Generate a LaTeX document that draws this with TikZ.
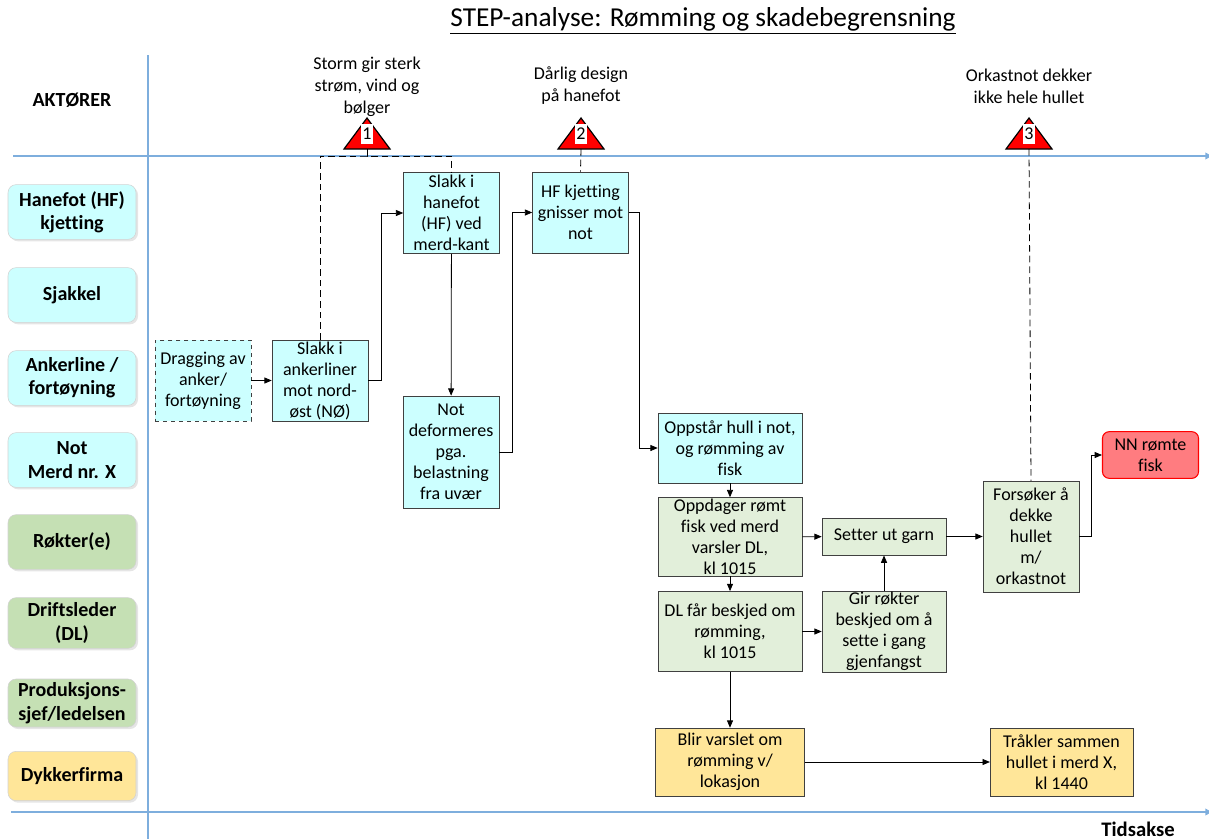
\documentclass[tikz,border=0pt]{standalone}
\usepackage{fontspec}
\setmainfont{Carlito}[Ligatures=NoCommon]
\usetikzlibrary{arrows.meta, positioning, shadows}
\definecolor{lanecyan}{HTML}{CCFFFF}
\definecolor{lanegreen}{HTML}{C5E0B4}
\definecolor{laneyellow}{HTML}{FFE699}
\definecolor{stepgreen}{HTML}{E2EFDA}
\definecolor{stepred}{HTML}{FF7C80}
\definecolor{axisblue}{HTML}{7EAEDD}

\begin{document}
\begin{tikzpicture}[x=0.75pt, y=-0.75pt,
      actor/.style={draw=gray!35, rounded corners=6pt, fill=lanecyan,
                    minimum width=96pt, minimum height=41pt, inner sep=1pt,
                    align=center, font=\fontsize{15}{17.5}\selectfont\bfseries,
                    drop shadow={shadow xshift=1.5pt, shadow yshift=-1.5pt, fill=gray!40}},
      box/.style={draw=black!75, fill=lanecyan, minimum width=72pt,
                  minimum height=61pt, inner sep=1pt, align=center,
                  font=\fontsize{13.5}{15.75}\selectfont},
      note/.style={align=center, font=\fontsize{13.5}{16.5}\selectfont},
      riskno/.style={fill=white, inner xsep=1pt, inner ysep=0pt, minimum height=15pt,
                     font=\fontsize{13.5}{15}\selectfont},
      risk/.style={draw=black, fill=red, line width=0.9pt, line join=miter},
      axis/.style={axisblue, line width=1pt, -{Triangle[length=5pt, width=5pt]}},
      arr/.style={-{Triangle[length=5.5pt, width=4.5pt]}, semithick},
      riskline/.style={semithick, dash pattern=on 5pt off 3pt},
    ]
    \useasboundingbox (0,0) rectangle (1209,839);

    % ── Frame: title, axes ──
    \node[font=\fontsize{20.5}{24}\selectfont] (title) at (703,21)
          {\underline{STEP-analyse: Rømming og skadebegrensning}};
    \draw[axisblue, line width=1pt] (148,55) -- (148,839);
    \draw[axis] (13,156) -- (1212,156);
    \draw[axis] (11,812) -- (1212,812);
    \node[font=\fontsize{15}{17}\selectfont\bfseries] (aktorer) at (72,100) {AKTØRER};
    \node[font=\fontsize{15.5}{17}\selectfont\bfseries] (tid) at (1138,829) {Tidsakse};

    % ── Actors (lanes) ──
    \node[actor] (hf)     at (72,212) {Hanefot (HF)\\kjetting};
    \node[actor] (sjakk)  at (72,295) {Sjakkel};
    \node[actor] (anker)  at (72,378) {Ankerline /\\fortøyning};
    \node[actor] (not)    at (72,460) {Not\\Merd nr. X};
    \node[actor, fill=lanegreen] (rokt) at (72,542) {Røkter(e)};
    \node[actor, fill=lanegreen, minimum height=38pt] (dl) at (72,623) {Driftsleder\\(DL)};
    \node[actor, fill=lanegreen, minimum height=36pt] (prod) at (72,703)
          {Produksjons-\\sjef/ledelsen};
    \node[actor, fill=laneyellow, minimum height=37pt] (dykk) at (72,776) {Dykkerfirma};

    % ── Risk triangles ──
    \draw[risk] (367,118) -- (390,149) -- (344,149) -- cycle;
    \draw[risk] (581,118) -- (604,149) -- (558,149) -- cycle;
    \draw[risk] (1029,118) -- (1052,149) -- (1006,149) -- cycle;
    \node[riskno] (n1) at (367,134) {1};
    \node[riskno] (n2) at (581,134) {2};
    \node[riskno] (n3) at (1029,134) {3};
    \coordinate (r1) at (367,149);
    \coordinate (r2) at (581,149);
    \coordinate (r3) at (1029,149);
    \coordinate (r1axis) at (367,156);
    \node[note] (storm)  at (367,87) {Storm gir sterk\\strøm, vind og\\bølger};
    \node[note] (design) at (581,86) {Dårlig design\\på hanefot};
    \node[note] (orkan)  at (1029,86) {Orkastnot dekker\\ikke hele hullet};

    % ── Process boxes: not / anker / hanefot ──
    \node[box, dashed] (drag) at (203,380.5) {Dragging av\\anker/\\fortøyning};
    \node[box] (slakkank) at (320,380.5) {Slakk i\\ankerliner\\mot nord-\\øst (NØ)};
    \node[box] (slakkhf)  at (451.5,213) {Slakk i\\hanefot\\(HF) ved\\merd-kant};
    \node[box, minimum height=84pt] (deform) at (451,452)
          {Not\\deformeres\\pga.\\belastning\\fra uvær};
    \node[box] (gnisser) at (580.5,212.5) {HF kjetting\\gnisser mot\\not};
    \node[box, minimum width=108pt, minimum height=52.5pt] (hull) at (730,448)
          {Oppstår hull i not,\\og rømming av\\fisk};

    % ── Røkter / DL ──
    \node[box, fill=stepgreen, minimum width=108pt, minimum height=59pt,
          below=10.5pt of hull] (oppdag)
          {Oppdager rømt\\fisk ved merd\\varsler DL,\\kl 1015};
    \node[box, fill=stepgreen, minimum width=108pt, minimum height=60pt,
          below=11pt of oppdag] (dlbesk) {DL får beskjed om\\rømming,\\kl 1015};
    \node[box, fill=stepgreen, minimum width=93pt, minimum height=28pt] (garn)
          at (884,536.5) {Setter ut garn};
    \node[box, fill=stepgreen, minimum width=93pt] (gir) at (884,631.5)
          {Gir røkter\\beskjed om å\\sette i gang\\gjenfangst};
    \node[box, fill=stepgreen, minimum height=83pt] (forsok) at (1031,536.5)
          {Forsøker å\\dekke\\hullet\\m/\\orkastnot};
    \node[box, fill=stepred, draw=red, thick, rounded corners=5pt,
          minimum height=35pt] (nn) at (1150.5,455) {NN rømte\\fisk};

    % ── Dykkerfirma ──
    \node[box, fill=laneyellow, minimum width=112pt, minimum height=51pt] (varslet)
          at (730,762) {Blir varslet om\\rømming v/\\lokasjon};
    \node[box, fill=laneyellow, minimum width=107pt, minimum height=51pt] (trakl)
          at (1061.5,762) {Tråkler sammen\\hullet i merd X,\\kl 1440};

    % risk links
    \draw[semithick] (r1) -- (r1axis);
    \draw[riskline] (slakkank.north) |- (r1axis) -| (slakkhf.north);
    \draw[riskline] (r2) -- (gnisser.north);
    \draw[riskline] (r3) -- (forsok.north);

    % flow
    \draw[arr] (drag) -- (slakkank);
    \draw[arr] (slakkank.east) -- ++(13,0) |- (slakkhf.west);
    \draw[arr] (slakkhf) -- (deform);
    \draw[arr] (deform.east) -- ++(13,0) |- (gnisser.west);
    \draw[arr] (gnisser.east) -- ++(11,0) |- (hull.west);
    \draw[arr] (hull) -- (oppdag);
    \draw[arr] (oppdag) -- (dlbesk);
    \draw[arr] (oppdag) -- (garn);
    \draw[arr] (dlbesk.east |- gir.west) -- (gir.west);
    \draw[arr] (gir) -- (garn);
    \draw[arr] (garn) -- (forsok);
    \draw[arr] (forsok.east) -- ++(12,0) |- (nn.west);
    \draw[arr] (dlbesk) -- (varslet);
    \draw[arr] (varslet) -- (trakl);
  \end{tikzpicture}
\end{document}
